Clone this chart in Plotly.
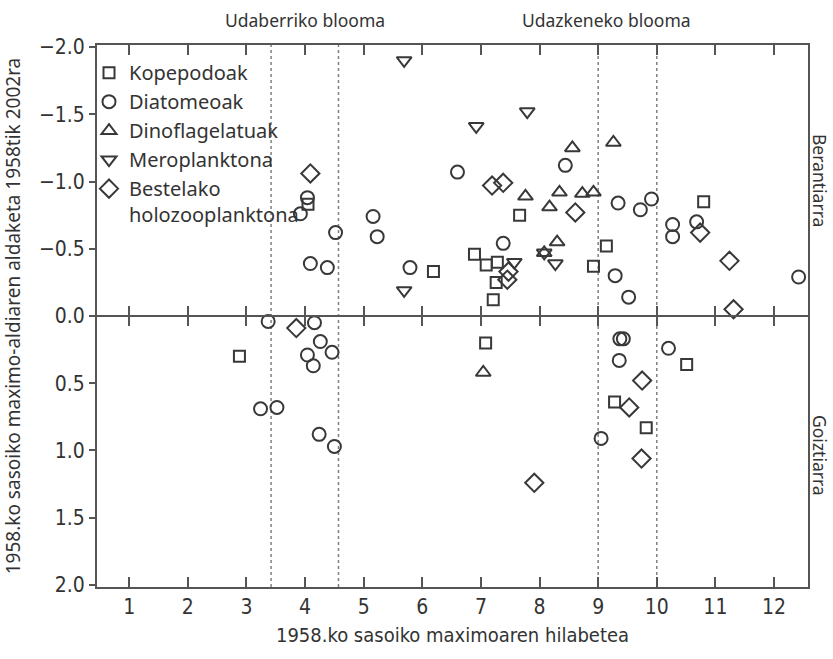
import plotly.graph_objects as go

# ---- data (month of 1958 seasonal peak, change in timing 1958->2002) ----
kope_x = [4.05, 6.19, 6.89, 7.09, 7.28, 7.26, 7.21, 7.66, 8.92, 9.14, 10.80, 2.88, 7.08, 9.28, 9.82, 10.51]
kope_y = [-0.83, -0.33, -0.46, -0.38, -0.40, -0.25, -0.12, -0.75, -0.37, -0.52, -0.85, 0.30, 0.20, 0.64, 0.83, 0.36]

diat_x = [4.04, 3.92, 4.52, 4.09, 4.38, 5.16, 5.23, 5.79, 6.60, 7.38, 8.44, 9.34, 9.72, 9.91,
          10.27, 10.27, 10.68, 9.29, 9.52, 12.42,
          3.37, 4.16, 4.26, 4.46, 4.04, 4.14, 3.24, 3.52, 4.24, 4.50, 9.05, 9.37, 9.43, 9.36, 10.20]
diat_y = [-0.88, -0.76, -0.62, -0.39, -0.36, -0.74, -0.59, -0.36, -1.07, -0.54, -1.12, -0.84, -0.79, -0.87,
          -0.68, -0.59, -0.70, -0.30, -0.14, -0.29,
          0.04, 0.05, 0.19, 0.27, 0.29, 0.37, 0.69, 0.68, 0.88, 0.97, 0.91, 0.17, 0.17, 0.33, 0.24]

dino_x = [8.56, 9.26, 7.76, 8.34, 8.73, 8.92, 8.17, 8.30, 8.08, 7.04]
dino_y = [-1.25, -1.29, -0.89, -0.92, -0.91, -0.92, -0.81, -0.55, -0.47, 0.42]

mero_x = [5.69, 7.79, 6.92, 7.57, 5.69, 8.08, 8.27]
mero_y = [-1.90, -1.52, -1.41, -0.40, -0.19, -0.47, -0.39]

best_x = [4.09, 7.19, 7.38, 8.61, 7.47, 7.45, 10.74, 11.24, 11.31, 3.85, 7.91, 9.75, 9.53, 9.74]
best_y = [-1.06, -0.97, -0.99, -0.77, -0.33, -0.27, -0.62, -0.41, -0.05, 0.09, 1.24, 0.48, 0.68, 1.06]

bloom_lines = [3.42, 4.57, 9.0, 10.0]
month_ticks = list(range(1, 13))
y_ticks = [-2.0, -1.5, -1.0, -0.5, 0.0, 0.5, 1.0, 1.5, 2.0]

series = [
    ("Kopepodoak", kope_x, kope_y, "square-open", 11),
    ("Diatomeoak", diat_x, diat_y, "circle-open", 13),
    ("Dinoflagelatuak", dino_x, dino_y, "triangle-up-open", 13),
    ("Meroplanktona", mero_x, mero_y, "triangle-down-open", 13),
    ("Bestelako<br>holozooplanktona", best_x, best_y, "diamond-open", 14),
]

INK = "#383838"
AX = "#555555"
TICKFONT = "Liberation Sans Narrow, DejaVu Sans Condensed, sans-serif"
TEXTFONT = "Noto Sans, Open Sans, sans-serif"

fig = go.Figure()
for name, xs, ys, sym, sz in series:
    fig.add_trace(go.Scatter(
        x=xs, y=ys, mode="markers", name=name,
        marker=dict(symbol=sym, size=sz, color=INK, line=dict(width=2, color=INK)),
    ))

# zero-line axes carrying the crossing ticks
fig.add_trace(go.Scatter(x=[], y=[], xaxis="x2", showlegend=False, hoverinfo="skip"))
fig.add_trace(go.Scatter(x=[], y=[], xaxis="x3", showlegend=False, hoverinfo="skip"))

for xv in bloom_lines:
    fig.add_shape(type="line", x0=xv, x1=xv, xref="x", y0=0, y1=1, yref="paper",
                  line=dict(color="#808080", width=1.5, dash="dot"), layer="below")

xr = [0.45, 12.58]
common_x = dict(range=xr, tickvals=month_ticks, showgrid=False, zeroline=False,
                linecolor=AX, linewidth=2, tickcolor=AX, tickwidth=2)
fig.update_layout(
    width=833, height=659,
    margin=dict(l=97, r=25, t=45, b=72),
    plot_bgcolor="white", paper_bgcolor="white",
    xaxis=dict(**common_x, ticks="inside", ticklen=10, mirror="ticks", showline=True,
               ticktext=[str(m) for m in month_ticks],
               tickfont=dict(family=TICKFONT, size=21, color="#333333"),
               title=dict(text="1958.ko sasoiko maximoaren hilabetea",
                          font=dict(family=TICKFONT, size=20, color="#333333"), standoff=10)),
    xaxis2=dict(**common_x, overlaying="x", anchor="free", position=0.5, side="bottom",
                ticks="outside", ticklen=9, showline=True, showticklabels=False),
    xaxis3=dict(**common_x, overlaying="x", anchor="free", position=0.5, side="top",
                ticks="outside", ticklen=9, showline=True, showticklabels=False),
    yaxis=dict(range=[2.015, -2.015], tickvals=y_ticks, tickformat=".1f",
               showgrid=False, zeroline=False, showline=True, mirror=True,
               linecolor=AX, linewidth=2, ticks="outside", ticklen=6, tickcolor=AX, tickwidth=2,
               tickfont=dict(family=TICKFONT, size=21, color="#333333"),
               title=dict(text="1958.ko sasoiko maximo-aldiaren aldaketa 1958tik 2002ra",
                          font=dict(family=TEXTFONT, size=19, color="#333333"), standoff=14)),
    legend=dict(x=-8 / 711, y=0.985, xanchor="left", yanchor="top", bgcolor="rgba(0,0,0,0)",
                font=dict(family=TEXTFONT, size=20, color="#333333"),
                tracegroupgap=0, itemwidth=30, valign="top"),
    showlegend=True,
)

lab_font = dict(family=TEXTFONT, size=17.5, color="#333333")
fig.add_annotation(text="Udaberriko blooma", x=(305 - 97) / 711, xref="paper", xanchor="center",
                   y=1 + (45 - 20) / 542, yref="paper", showarrow=False, yanchor="middle",
                   font=lab_font)
fig.add_annotation(text="Udazkeneko blooma", x=(606 - 97) / 711, xref="paper", xanchor="center",
                   y=1 + (45 - 20) / 542, yref="paper", showarrow=False, yanchor="middle",
                   font=lab_font)
fig.add_annotation(text="Berantiarra", x=1 + (820 - 808) / 711, xref="paper", xanchor="center",
                   y=1 - (180 - 45) / 542, yref="paper", yanchor="middle", showarrow=False,
                   textangle=90, font=lab_font)
fig.add_annotation(text="Goiztiarra", x=1 + (820 - 808) / 711, xref="paper", xanchor="center",
                   y=1 - (455 - 45) / 542, yref="paper", yanchor="middle", showarrow=False,
                   textangle=90, font=lab_font)

fig.write_html("out.html")
